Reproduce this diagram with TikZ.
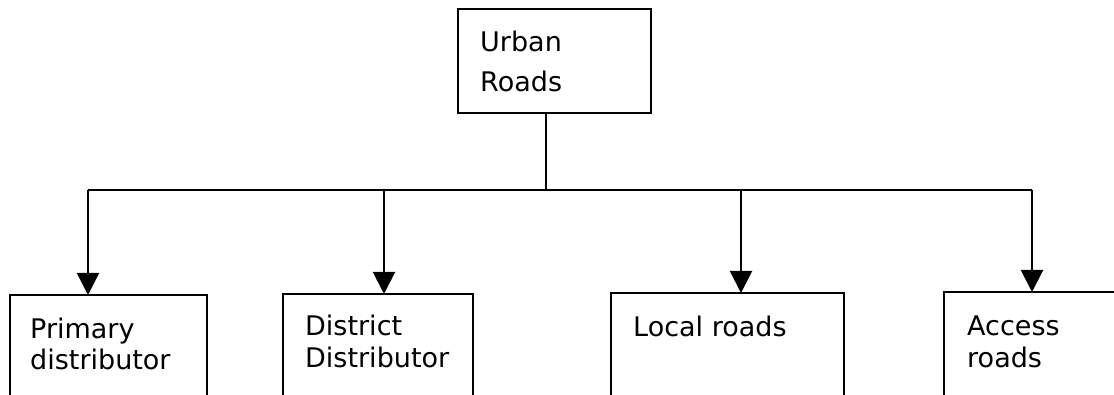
\documentclass[tikz,border=0pt]{standalone}
\usepackage{fontspec}
\setmainfont{DejaVu Sans}
\usetikzlibrary{arrows.meta}
\begin{document}
\begin{tikzpicture}[x=1pt,y=-1pt,
  box/.style={draw, line width=2pt, anchor=north west, inner sep=0pt, outer sep=0pt},
  txt/.style={anchor=base west, inner sep=0pt, align=left, font=\fontsize{27}{32}\selectfont},
  conn/.style={line width=2pt},
  arr/.style={line width=2pt, -{Triangle[width=22pt,length=22pt]}}]
\useasboundingbox (0,0) rectangle (1114,395);
\clip (0,0) rectangle (1114,395);
% boxes
\node[box, minimum width=193pt, minimum height=104pt] (top) at (458,9) {};
\node[box, minimum width=197pt, minimum height=130pt] (prim) at (10,295) {};
\node[box, minimum width=190pt, minimum height=130pt] (dist) at (283,294) {};
\node[box, minimum width=233pt, minimum height=130pt] (loc) at (611,293) {};
\node[box, minimum width=200pt, minimum height=130pt] (acc) at (944,292) {};
% texts
\node[txt, font=\fontsize{27}{40}\selectfont] (ttop) at (480,92) {Urban\\Roads};
\node[txt] (tprim) at (30,370) {Primary\\distributor};
\node[txt] (tdist) at (305,367) {District\\Distributor};
\node[txt] (tloc) at (633,337) {Local roads};
\node[txt] (tacc) at (967,367) {Access\\roads};
% connectors
\coordinate (j) at (546,190);
\coordinate (b1) at (88,190);
\coordinate (b2) at (384,190);
\coordinate (b3) at (741,190);
\coordinate (b4) at (1032,190);
\draw[conn] (top.south -| j) -- (j);
\draw[conn] (b1) -- (b4);
\draw[arr] (b1) -- (b1 |- prim.north);
\draw[arr] (b2) -- (b2 |- dist.north);
\draw[arr] (b3) -- (b3 |- loc.north);
\draw[arr] (b4) -- (b4 |- acc.north);
\end{tikzpicture}
\end{document}
